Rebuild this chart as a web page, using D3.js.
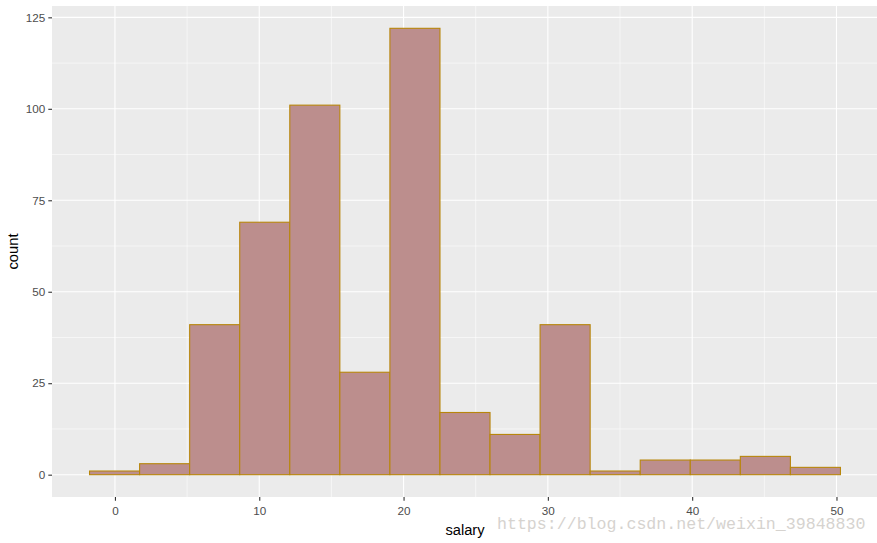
<!DOCTYPE html>
<html><head><meta charset="utf-8">
<script src="https://cdn.jsdelivr.net/npm/d3@7"></script>
<style>body{margin:0;background:#fff}svg{display:block}</style>
</head><body>
<script>
// Data (histogram of salary, 15 bins)
const binStart = -1.76;
const binWidth = 3.469;
const counts = [1, 3, 41, 69, 101, 28, 122, 17, 11, 41, 1, 4, 4, 5, 2];
const xTicks = [0, 10, 20, 30, 40, 50];
const yTicks = [0, 25, 50, 75, 100, 125];
const xMinor = [5, 15, 25, 35, 45];
const yMinor = [12.5, 37.5, 62.5, 87.5, 112.5];
const xTitle = "salary";
const yTitle = "count";
const watermark = "https://blog.csdn.net/weixin_39848830";

const W = 877, H = 543;
const panel = {left: 52, right: 878, top: 6, bottom: 497};

const bins = counts.map((c, i) => ({x0: binStart + i * binWidth, x1: binStart + (i + 1) * binWidth, n: c}));
const xLo = bins[0].x0, xHi = bins[bins.length - 1].x1;
const xPad = (xHi - xLo) * 0.05;
const yMax = d3.max(counts), yPad = yMax * 0.05;

const x = d3.scaleLinear().domain([xLo - xPad, xHi + xPad]).range([panel.left, panel.right]);
const y = d3.scaleLinear().domain([-yPad, yMax + yPad]).range([panel.bottom, panel.top]);

const svg = d3.select("body").append("svg").attr("width", W).attr("height", H)
  .style("font-family", "Liberation Sans, Arial, sans-serif");

svg.append("rect").attr("x", panel.left).attr("y", panel.top)
  .attr("width", panel.right - panel.left).attr("height", panel.bottom - panel.top)
  .attr("fill", "#EBEBEB");

const g = svg.append("g");
g.selectAll(".xmin").data(xMinor).join("line")
  .attr("x1", d => x(d)).attr("x2", d => x(d)).attr("y1", panel.top).attr("y2", panel.bottom)
  .attr("stroke", "#fff").attr("stroke-width", 0.55);
g.selectAll(".ymin").data(yMinor).join("line")
  .attr("y1", d => y(d)).attr("y2", d => y(d)).attr("x1", panel.left).attr("x2", panel.right)
  .attr("stroke", "#fff").attr("stroke-width", 0.55);
g.selectAll(".xmaj").data(xTicks).join("line")
  .attr("x1", d => x(d)).attr("x2", d => x(d)).attr("y1", panel.top).attr("y2", panel.bottom)
  .attr("stroke", "#fff").attr("stroke-width", 1.1);
g.selectAll(".ymaj").data(yTicks).join("line")
  .attr("y1", d => y(d)).attr("y2", d => y(d)).attr("x1", panel.left).attr("x2", panel.right)
  .attr("stroke", "#fff").attr("stroke-width", 1.1);

svg.append("g").selectAll("rect").data(bins).join("rect")
  .attr("x", d => x(d.x0)).attr("width", d => x(d.x1) - x(d.x0))
  .attr("y", d => y(d.n)).attr("height", d => y(0) - y(d.n))
  .attr("fill", "#BC8E8D").attr("stroke", "#B8860B").attr("stroke-width", 1.1);

// axes
const xAxis = d3.axisBottom(x).tickValues(xTicks).tickSize(3.7).tickPadding(3);
const ax = svg.append("g").attr("transform", `translate(0,${panel.bottom})`).call(xAxis);
const yAxis = d3.axisLeft(y).tickValues(yTicks).tickSize(3.7).tickPadding(3);
const ay = svg.append("g").attr("transform", `translate(${panel.left},0)`).call(yAxis);
[ax, ay].forEach(a => {
  a.select(".domain").remove();
  a.selectAll(".tick line").attr("stroke", "#333").attr("stroke-width", 1.1);
  a.selectAll(".tick text").attr("fill", "#4D4D4D").style("font-size", "11.7px")
    .style("font-family", "Liberation Sans, Arial, sans-serif");
});
ax.selectAll(".tick text").attr("dy", "0.95em");

svg.append("text").attr("x", (panel.left + Math.min(panel.right, W + 1)) / 2).attr("y", 535)
  .attr("text-anchor", "middle").attr("font-size", "14.7px").attr("fill", "#000").text(xTitle);
svg.append("text").attr("transform", `translate(18,${(panel.top + panel.bottom) / 2}) rotate(-90)`)
  .attr("text-anchor", "middle").attr("font-size", "14.7px").attr("fill", "#000").text(yTitle);

svg.append("text").attr("x", 497).attr("y", 529)
  .attr("font-family", "Liberation Mono, DejaVu Sans Mono, monospace").attr("font-size", "16.6px")
  .attr("fill", "#D6D3CF").text(watermark);
</script>
</body></html>
